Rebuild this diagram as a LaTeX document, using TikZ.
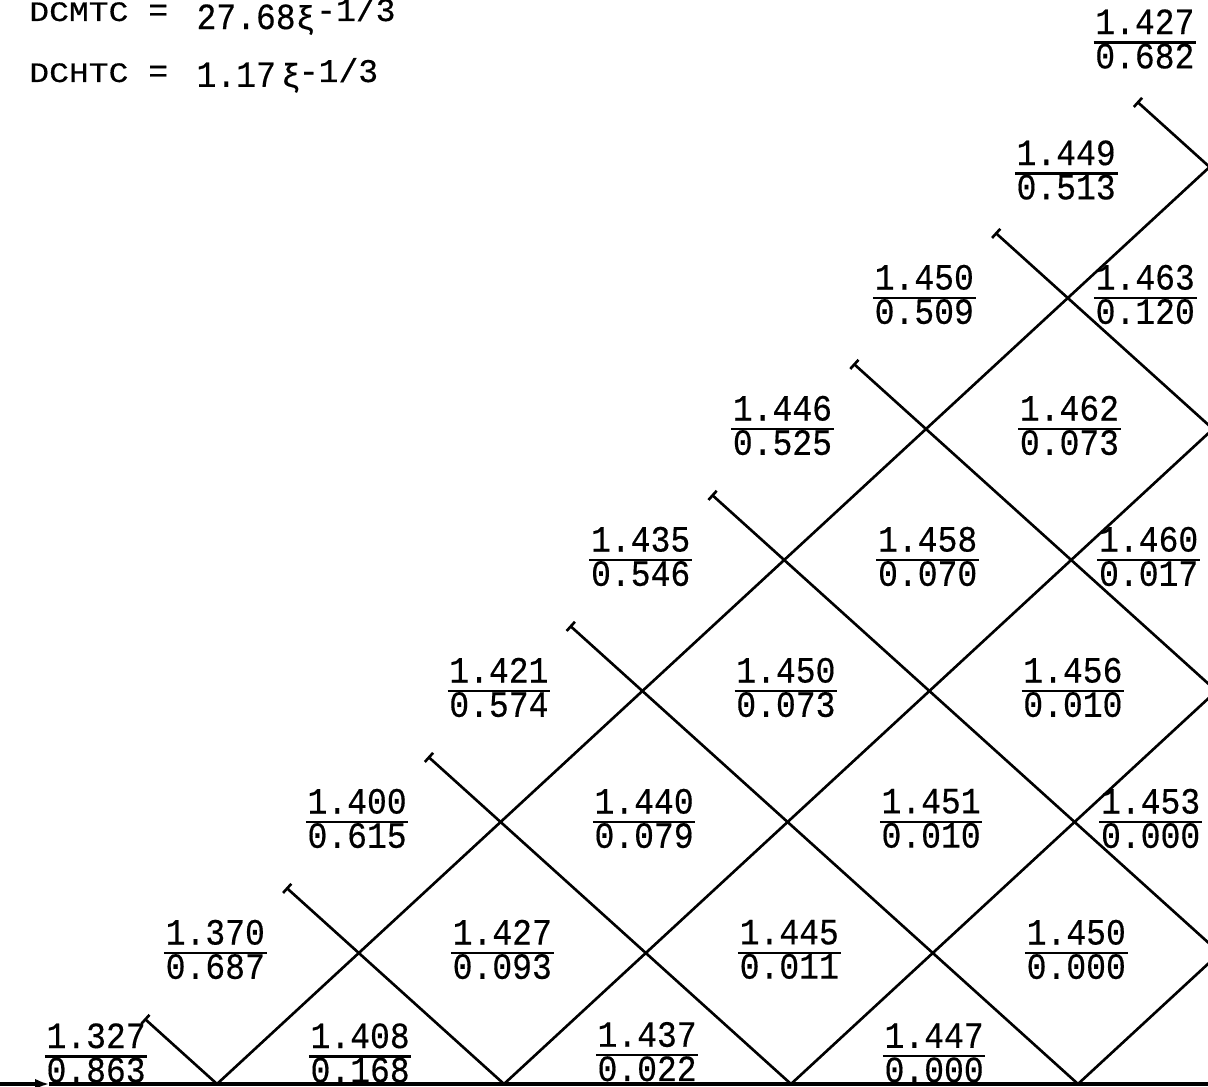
\documentclass[tikz,border=0pt]{standalone}
\usepackage{fontspec}
\setmonofont{Liberation Mono}[FakeBold=0.4]
\usepackage{graphicx}
\usetikzlibrary{arrows.meta}

% value pair: upper number over lower number with a bar between
\newcommand{\frc}[2]{{\renewcommand{\arraystretch}{0}\setlength{\arrayrulewidth}{0.6pt}%
  \begin{tabular}{@{\hspace{0.5pt}}c@{\hspace{0.5pt}}}\rule[-2.1pt]{0pt}{8.8pt}\scalebox{1}[1.12]{#1}\\\hline\rule[-2.1pt]{0pt}{8.8pt}\scalebox{1}[1.12]{#2}\end{tabular}}}

\begin{document}
\begin{tikzpicture}[x={(1.435cm,0cm)}, y={(-0.017cm,1.31cm)}, line width=0.75pt,
    val/.style={font=\ttfamily\fontsize{9.4pt}{11pt}\selectfont, inner sep=0pt},
    txt/.style={font=\ttfamily\fontsize{9.4pt}{11pt}\selectfont, inner sep=0pt, anchor=base west},
    charline/.style={{Bar[width=3.5pt]}-{Bar[width=3.5pt]}}]
\useasboundingbox (-0.735cm,-0.03cm) rectangle (11.345cm,10.84cm);
\clip (-0.735cm,-0.03cm) rectangle (11.345cm,10.84cm);

% formulas
\node[txt] (dcmtc) at (-0.455cm,10.63cm) {\scalebox{1}[0.85]{DCMTC}\ =\hspace{8.1pt}\raisebox{-2.3pt}{\scalebox{1}[1.12]{27.68}ξ}\hspace{0.2pt}-1/3};
\node[txt] (dchtc) at (-0.455cm,10.02cm) {\scalebox{1}[0.85]{DCHTC}\ =\hspace{8.1pt}\raisebox{-1.4pt}{\scalebox{1}[1.12]{1.17}}\hspace{1.5pt}\raisebox{-1.4pt}{ξ}\hspace{-0.6pt}-1/3};

% wall
\coordinate (o0) at (-0.52,0);
\coordinate (oa) at (-0.17,0);
\coordinate (o1) at (8.3,0);
\draw[line width=0.9pt, -{Latex[length=4pt,width=3pt]}] (o0) -- (oa);
\draw[line width=0.9pt] (oa) -- (o1);

% characteristics, reflected at the wall and at the edge
\foreach \k in {0,...,3} {
  \coordinate (t\k) at (\k+0.5,\k+0.5);
  \coordinate (b\k) at (2*\k+1,0);
  \coordinate (w\k) at (8,7-2*\k);
  \coordinate (s\k) at (7.5-\k,7.5-\k);
  \draw[charline] (t\k) -- (b\k) -- (w\k) -- (s\k);
}

% values
\foreach \u/\v/\a/\b [count=\i] in {0.16/0.21/1.327/0.863, 2/0.21/1.408/0.168, 4/0.22/1.437/0.022, 6/0.21/1.447/0.000,
    1/1/1.370/0.687, 3/1/1.427/0.093, 5/1/1.445/0.011, 7/1/1.450/0.000,
    2/2/1.400/0.615, 4/2/1.440/0.079, 6/2/1.451/0.010, 7.53/2/1.453/0.000,
    3/3/1.421/0.574, 5/3/1.450/0.073, 7/3/1.456/0.010,
    4/4/1.435/0.546, 6/4/1.458/0.070, 7.54/4/1.460/0.017,
    5/5/1.446/0.525, 7/5/1.462/0.073,
    6/6/1.450/0.509, 7.54/6/1.463/0.120,
    7/6.95/1.449/0.513, 7.56/7.95/1.427/0.682} {
  \node[val] (n\i) at (\u,\v) {\frc{\a}{\b}};
}
\end{tikzpicture}
\end{document}
